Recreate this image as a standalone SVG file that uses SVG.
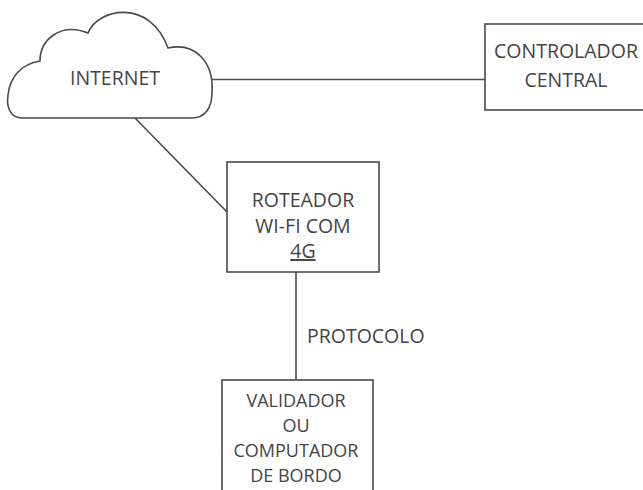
<svg xmlns="http://www.w3.org/2000/svg" width="643" height="490" viewBox="0 0 643 490">
<style>
.shape{fill:#fff;stroke:#4a4a4a;stroke-width:1.6}
.conn{fill:none;stroke:#4a4a4a;stroke-width:1.6}
.t{font-family:"Open Sans","Liberation Sans",sans-serif;font-size:19.5px;fill:#444;text-anchor:middle}
.s{font-size:18px}
</style>
<rect width="643" height="490" fill="#fff"/>
<g id="connectors">
<line class="conn" x1="212" y1="79.5" x2="485" y2="79.5"/>
<line class="conn" x1="135" y1="118" x2="227" y2="212"/>
<line class="conn" x1="296" y1="272" x2="296" y2="380"/>
<text class="t" x="307" y="343" style="text-anchor:start">PROTOCOLO</text>
</g>
<g id="internet">
<path class="shape" d="M 22 118 C 11 118, 6 108, 8 95 C 10 76, 22 64, 40 61 C 40 40, 60 22, 88 33 C 98 8, 150 -2, 168 48 C 195 42, 214 62, 212 92 C 212 108, 205 118, 192 118 Z"/>
<text class="t" x="115" y="85">INTERNET</text>
</g>
<g id="controlador">
<rect class="shape" x="485" y="24" width="170" height="86"/>
<text class="t" x="566" y="58">CONTROLADOR</text>
<text class="t" x="566" y="87">CENTRAL</text>
</g>
<g id="roteador">
<rect class="shape" x="227" y="162" width="152" height="110"/>
<text class="t" x="303" y="207">ROTEADOR</text>
<text class="t" x="303" y="233">WI-FI COM</text>
<text class="t" x="303" y="258" text-decoration="underline">4G</text>
</g>
<g id="validador">
<rect class="shape" x="222" y="380" width="151" height="120"/>
<text class="t s" x="296" y="407">VALIDADOR</text>
<text class="t s" x="296" y="432">OU</text>
<text class="t s" x="296" y="457">COMPUTADOR</text>
<text class="t s" x="296" y="482">DE BORDO</text>
</g>
</svg>
